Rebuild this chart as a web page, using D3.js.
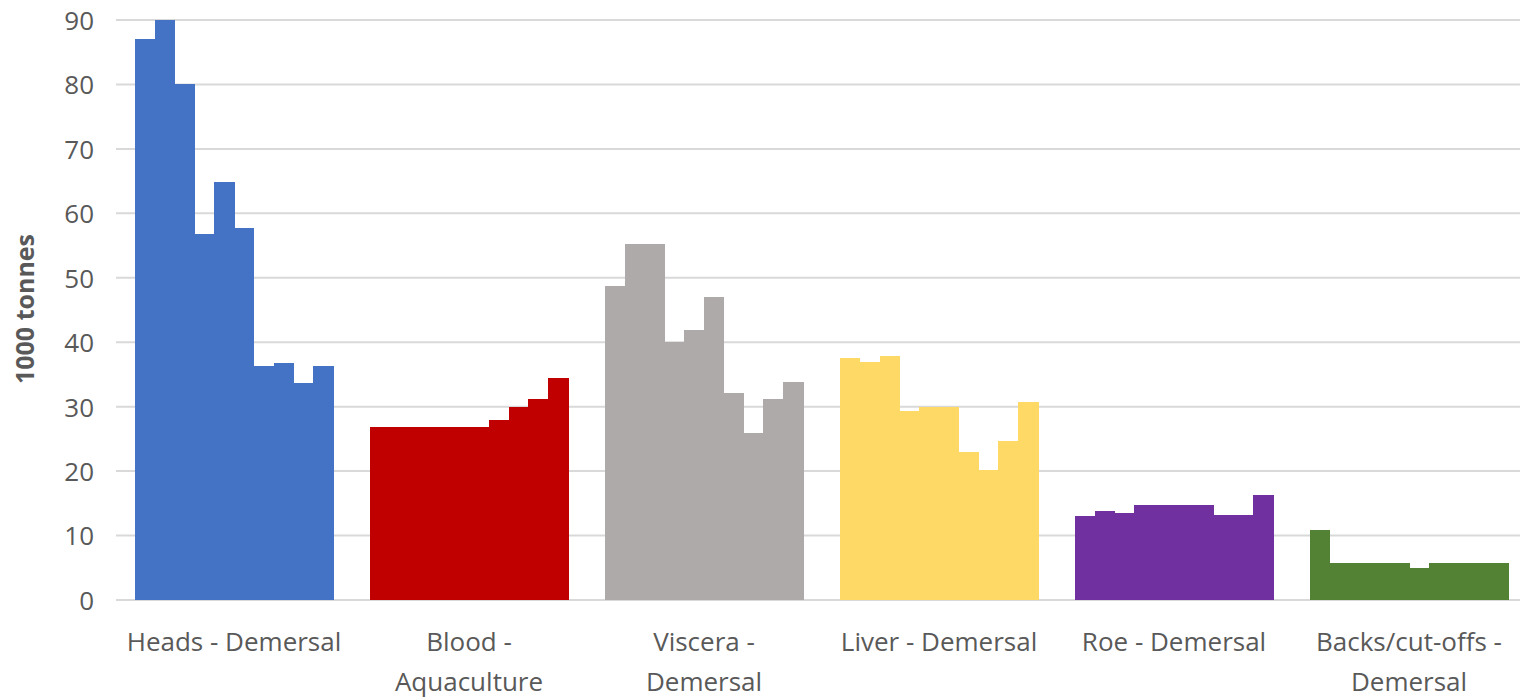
<!DOCTYPE html>
<html>
<head>
<meta charset="utf-8">
<script src="https://cdn.jsdelivr.net/npm/d3@7"></script>
<style>
  html, body { margin: 0; padding: 0; background: #fff; }
  svg { display: block; }
  text { font-family: "Open Sans", "DejaVu Sans", sans-serif; }
</style>
</head>
<body>
<svg id="chart" width="1520" height="699"></svg>
<script>
// ---- data ----
const categories = [
  "Heads - Demersal",
  "Blood -\nAquaculture",
  "Viscera -\nDemersal",
  "Liver - Demersal",
  "Roe - Demersal",
  "Backs/cut-offs -\nDemersal"
];
const colors = ["#4472C4", "#C00000", "#AEAAAA", "#FFD966", "#7030A0", "#548235"];
const headsValues   = [87.1, 90, 80, 56.8, 64.8, 57.8, 36.3, 36.8, 33.6, 36.3];
const bloodValues   = [26.9, 26.9, 26.9, 26.9, 26.9, 26.9, 28.0, 29.9, 31.2, 34.5];
const visceraValues = [48.8, 55.2, 55.2, 40.0, 41.9, 47.0, 32.1, 25.9, 31.2, 33.9];
const liverValues   = [37.5, 37.0, 37.8, 29.4, 29.9, 29.9, 22.9, 20.2, 24.6, 30.8];
const roeValues     = [13.1, 13.8, 13.5, 14.7, 14.7, 14.7, 14.7, 13.2, 13.2, 16.3];
const backsValues   = [10.9, 5.8, 5.8, 5.8, 5.8, 5.0, 5.8, 5.8, 5.8, 5.8];
const yTicks = [0, 10, 20, 30, 40, 50, 60, 70, 80, 90];
const yTitle = "1000 tonnes";

const seriesValues = [headsValues, bloodValues, visceraValues, liverValues, roeValues, backsValues];

// ---- layout ----
const svg = d3.select("#chart");
const plotLeft = 116.5, plotRight = 1526.5, plotTop = 20, plotBottom = 600;
const gridStart = 116;

const x = d3.scaleBand()
  .domain(categories)
  .range([plotLeft, plotRight])
  .paddingInner(37 / 235)
  .paddingOuter(37 / 235 / 2);

const idx = d3.range(10);
const xi = d3.scaleBand().domain(idx).range([0, x.bandwidth()]).padding(0);

const y = d3.scaleLinear().domain([0, 90]).range([plotBottom, plotTop]);

// gridlines
svg.append("g")
  .selectAll("line")
  .data(yTicks)
  .join("line")
  .attr("x1", gridStart)
  .attr("x2", 1520)
  .attr("y1", d => y(d))
  .attr("y2", d => y(d))
  .attr("stroke", "#D9D9D9")
  .attr("stroke-width", 2);

// y axis labels
const yAxis = d3.axisLeft(y).tickValues(yTicks).tickSize(0).tickPadding(0);
const gy = svg.append("g").attr("transform", "translate(94,0)").call(yAxis);
gy.select(".domain").remove();
gy.selectAll("text")
  .attr("font-family", "'Open Sans', sans-serif")
  .attr("font-size", 26)
  .attr("fill", "#595959")
  .attr("dy", "0.36em");

// bars
const groups = svg.append("g")
  .selectAll("g")
  .data(categories.map((c, i) => ({ cat: c, values: seriesValues[i], color: colors[i] })))
  .join("g")
  .attr("transform", d => `translate(${x(d.cat)},0)`);

groups.selectAll("rect")
  .data(d => d.values.map((v, i) => ({ v, i, color: d.color })))
  .join("rect")
  .attr("x", d => xi(d.i))
  .attr("width", xi.bandwidth() + 0.5)
  .attr("y", d => y(d.v))
  .attr("height", d => y(0) - y(d.v))
  .attr("fill", d => d.color)
  .attr("shape-rendering", "crispEdges");

// x axis labels
const xAxis = d3.axisBottom(x).tickSize(0).tickPadding(0);
const gx = svg.append("g").attr("transform", `translate(0,${plotBottom})`).call(xAxis);
gx.select(".domain").remove();
gx.selectAll(".tick text").each(function(d) {
  const t = d3.select(this);
  t.text(null)
    .attr("y", 0)
    .attr("dy", null)
    .attr("font-family", "'Open Sans', sans-serif")
    .attr("font-size", 26)
    .attr("fill", "#595959");
  d.split("\n").forEach((line, k) => {
    t.append("tspan").attr("x", 0).attr("y", 51 + k * 40).text(line);
  });
});

// y axis title
svg.append("text")
  .attr("transform", "translate(34,309) rotate(-90)")
  .attr("text-anchor", "middle")
  .attr("font-family", "'Open Sans', sans-serif")
  .attr("font-size", 25)
  .attr("font-weight", "bold")
  .attr("fill", "#595959")
  .text(yTitle);
</script>
</body>
</html>
